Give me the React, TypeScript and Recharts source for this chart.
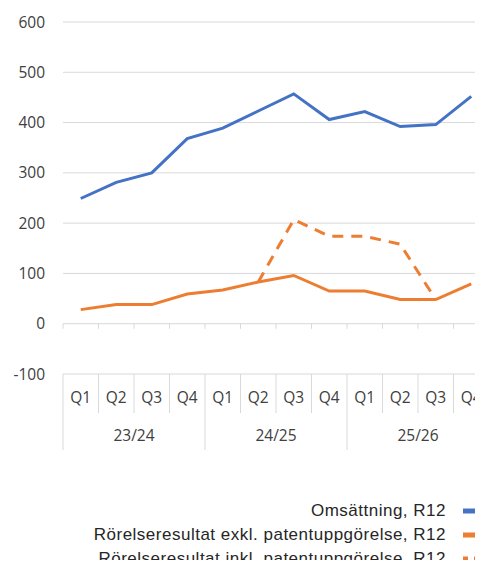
import React from 'react';
import { LineChart, Line, XAxis, YAxis, CartesianGrid, Legend, ReferenceLine } from 'recharts';

const quarters = ['Q1', 'Q2', 'Q3', 'Q4', 'Q1', 'Q2', 'Q3', 'Q4', 'Q1', 'Q2', 'Q3', 'Q4'];
const years = ['23/24', '24/25', '25/26'];
const omsattning = [249, 281, 300, 368, 389, 423, 457, 406, 422, 392, 396, 452];
const exklPatent = [28, 38, 38, 59, 67, 83, 96, 65, 65, 48, 48, 79];
const inklPatent = [null, null, null, null, null, 83, 207, 174, 174, 158, 48, null];
const yTicks = [-100, 0, 100, 200, 300, 400, 500, 600];

const data = quarters.map((q, i) => ({
    i,
    q,
    oms: omsattning[i],
    exkl: exklPatent[i],
    inkl: inklPatent[i],
}));

// category centres and band edges on a numeric x scale
const qTicks = quarters.map((_, i) => i);
const qBounds = [...quarters.map((_, i) => i - 0.5), quarters.length - 0.5];
const perYear = quarters.length / years.length;
const yearBounds = [...years.map((_, k) => k * perYear - 0.5), quarters.length - 0.5];
const yearCenters = years.map((_, k) => k * perYear + (perYear - 1) / 2);
const xDomain = [-0.5, quarters.length - 0.5];
const qAxisTicks = [...qBounds, ...qTicks].sort((a, b) => a - b);

const GRID = '#d9d9d9';
const TEXT = '#404040';
const FONT_SIZE = 15.5;
const axisFont = { fill: TEXT, fontSize: FONT_SIZE, fontFamily: 'Open Sans' };
const Q_LABEL_GAP = 18;

const QuarterTick = (props: any) => {
    const { x, y, payload } = props;
    const v = payload.value;
    if (Number.isInteger(v)) {
        return (
            <text x={x} y={y} dy="0.71em" textAnchor="middle" {...axisFont}>
                {quarters[v]}
            </text>
        );
    }
    const top = y - Q_LABEL_GAP;
    const len = yearBounds.includes(v) ? 76 : 39;
    return <line x1={x} x2={x} y1={top} y2={top + len} stroke={GRID} />;
};

const renderLegend = ({ payload }: any) => (
    <div
        style={{
            height: 118,
            paddingTop: 49,
            boxSizing: 'border-box',
            fontFamily: 'Liberation Sans',
            fontSize: 17,
            letterSpacing: 0.5,
            color: '#262626',
        }}
    >
        {(payload || []).map((entry: any) => {
            const dashed = entry.payload && entry.payload.strokeDasharray;
            return (
                <div
                    key={entry.value}
                    style={{ display: 'flex', justifyContent: 'flex-end', alignItems: 'center', height: 24.2, paddingRight: 6 }}
                >
                    <span style={{ whiteSpace: 'nowrap' }}>{entry.value}</span>
                    <svg width={20} height={6} style={{ marginLeft: 17 }}>
                        {dashed ? (
                            <line x1={0} y1={3} x2={20} y2={3} stroke={entry.color} strokeWidth={5} strokeDasharray="5 6" />
                        ) : (
                            <line x1={0} y1={3} x2={20} y2={3} stroke={entry.color} strokeWidth={5} />
                        )}
                    </svg>
                </div>
            );
        })}
    </div>
);

const App: React.FC = () => {
    return (
        <div style={{ margin: -8, width: 483, height: 568, overflow: 'hidden', position: 'relative' }}>
            <LineChart width={490} height={568} data={data} margin={{ top: 22, right: 1, left: 0, bottom: 0 }}>
                <CartesianGrid xAxisId="q" vertical={false} stroke={GRID} />
                <YAxis
                    domain={[-100, 600]}
                    ticks={yTicks}
                    interval={0}
                    axisLine={false}
                    tickLine={false}
                    width={63}
                    tickSize={0}
                    tickMargin={18}
                    tick={axisFont}
                />
                <XAxis
                    xAxisId="q"
                    dataKey="i"
                    type="number"
                    domain={xDomain}
                    ticks={qAxisTicks}
                    interval={0}
                    height={39}
                    axisLine={false}
                    tickLine={false}
                    tickSize={0}
                    tickMargin={Q_LABEL_GAP}
                    tick={<QuarterTick />}
                />
                <XAxis
                    xAxisId="yr"
                    dataKey="i"
                    type="number"
                    domain={xDomain}
                    ticks={yearCenters}
                    interval={0}
                    height={37}
                    axisLine={false}
                    tickLine={false}
                    tickSize={0}
                    tickMargin={17}
                    tick={axisFont}
                    tickFormatter={(v: number) => years[Math.round((v - (perYear - 1) / 2) / perYear)]}
                />
                {qBounds.map((b) => (
                    <ReferenceLine
                        key={b}
                        xAxisId="q"
                        yAxisId={0}
                        ifOverflow="visible"
                        segment={[
                            { x: b, y: 0 },
                            { x: b, y: -10 },
                        ]}
                        stroke={GRID}
                    />
                ))}
                <Legend verticalAlign="bottom" align="right" content={renderLegend} />
                <Line
                    xAxisId="q"
                    type="linear"
                    dataKey="oms"
                    name="Omsättning, R12"
                    stroke="#4472C4"
                    strokeWidth={3}
                    dot={false}
                    isAnimationActive={false}
                />
                <Line
                    xAxisId="q"
                    type="linear"
                    dataKey="exkl"
                    name="Rörelseresultat exkl. patentuppgörelse, R12"
                    stroke="#ED7D31"
                    strokeWidth={3}
                    dot={false}
                    isAnimationActive={false}
                />
                <Line
                    xAxisId="q"
                    type="linear"
                    dataKey="inkl"
                    name="Rörelseresultat inkl. patentuppgörelse, R12"
                    stroke="#ED7D31"
                    strokeWidth={3}
                    strokeDasharray="11 8"
                    dot={false}
                    isAnimationActive={false}
                />
            </LineChart>
        </div>
    );
};

export default App;
